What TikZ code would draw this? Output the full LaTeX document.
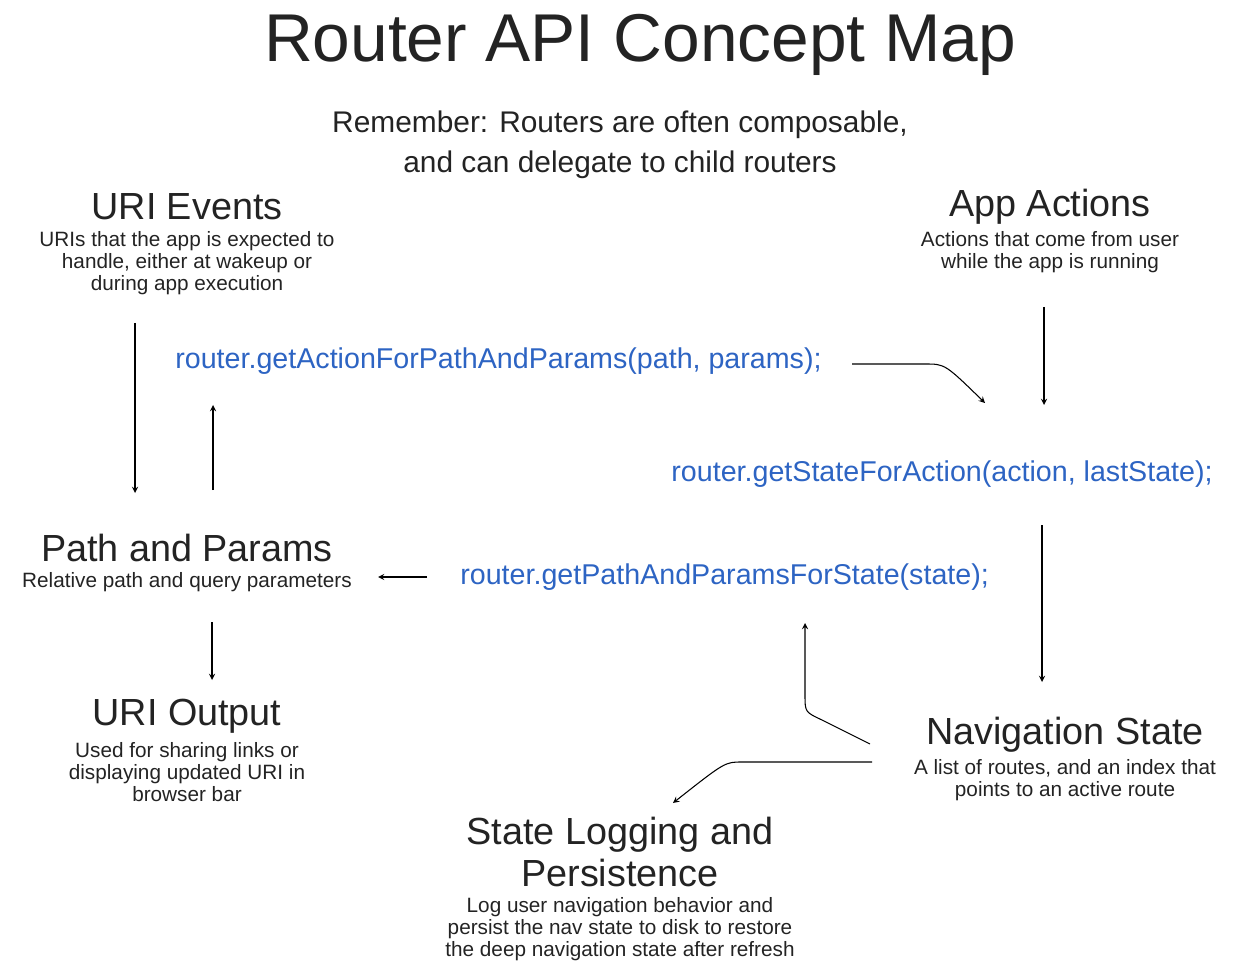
\documentclass[tikz,border=0pt]{standalone}
\usepackage{fontspec}
\setmainfont{Liberation Sans}
\definecolor{codeblue}{RGB}{45,100,195}
\definecolor{inkgray}{RGB}{35,35,35}
\begin{document}
\begin{tikzpicture}[x=0.02cm,y=-0.02cm,
      head/.style={font=\fontsize{21.5}{24}\selectfont,text=inkgray,inner sep=0pt},
      desc/.style={font=\fontsize{11.8}{12.4}\selectfont,align=center,text=inkgray,inner sep=0pt},
      code/.style={font=\fontsize{16.3}{20}\selectfont,text=codeblue,inner sep=0pt},
      link/.style={-stealth,line width=0.6pt,black}]
  \useasboundingbox (0,0) rectangle (1240,979);
  \node[font=\fontsize{38.5}{42}\selectfont,text=inkgray] (title) at (640,45) {Router API Concept Map};
  \node[font=\fontsize{17}{23}\selectfont,align=center,text=inkgray] (note) at (620,145)
    {Remember: Routers are often composable,\\and can delegate to child routers};
  % nodes
  \node[head] (uriev) at (187,207) {URI Events};
  \node[desc] (uridesc) at (187,263) {URIs that the app is expected to\\handle, either at wakeup or\\during app execution};
  \node[head] (appact) at (1050,207) {App Actions};
  \node[desc] (appdesc) at (1050,252) {Actions that come from user\\while the app is running};
  \node[head] (path) at (187,548) {Path and Params};
  \node[desc] (pathdesc) at (187,582) {Relative path and query parameters};
  \node[head] (uriout) at (187,716) {URI Output};
  \node[desc] (outdesc) at (187,772) {Used for sharing links or\\displaying updated URI in\\browser bar};
  \node[head] (nav) at (1065,735) {Navigation State};
  \node[desc] (navdesc) at (1065,780) {A list of routes, and an index that\\points to an active route};
  \node[head,align=center,font=\fontsize{21.5}{24}\selectfont] (log) at (620,852) {State Logging and\\Persistence};
  \node[desc] (logdesc) at (620,929) {Log user navigation behavior and\\persist the nav state to disk to restore\\the deep navigation state after refresh};
  % router calls
  \node[code,anchor=west] (getaction) at (175,361) {router.getActionForPathAndParams(path, params);};
  \node[code,anchor=east] (getstate) at (1213,474) {router.getStateForAction(action, lastState);};
  \node[code,anchor=west] (getpath) at (460,577) {router.getPathAndParamsForState(state);};
  % connector ends
  \coordinate (a1) at (135,323); \coordinate (a2) at (135,493);
  \coordinate (b1) at (213,490); \coordinate (b2) at (213,405);
  \coordinate (c1) at (852,364); \coordinate (c2) at (985,403);
  \coordinate (d1) at (1044,307); \coordinate (d2) at (1044,405);
  \coordinate (e1) at (1042,525); \coordinate (e2) at (1042,682);
  \coordinate (f1) at (427,577); \coordinate (f2) at (378,577);
  \coordinate (g1) at (212,622); \coordinate (g2) at (212,680);
  \coordinate (h1) at (870,744); \coordinate (h2) at (805,623);
  \coordinate (k1) at (872,762); \coordinate (k2) at (673,803);
  % connectors
  \draw[link] (a1) -- (a2);
  \draw[link] (b1) -- (b2);
  \draw[link] (c1) -- (925,364) .. controls (945,364) .. (c2);
  \draw[link] (d1) -- (d2);
  \draw[link] (e1) -- (e2);
  \draw[link] (f1) -- (f2);
  \draw[link] (g1) -- (g2);
  \draw[link] (h1) -- (822,720) .. controls (805,712) .. (805,695) -- (h2);
  \draw[link] (k1) -- (742,762) .. controls (725,762) .. (k2);
\end{tikzpicture}
\end{document}
